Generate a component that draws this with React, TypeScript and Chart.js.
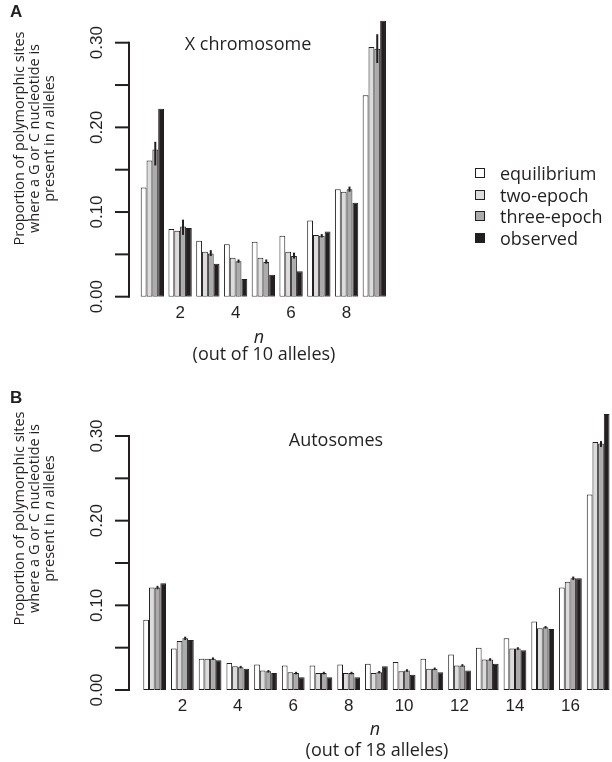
import React, { useEffect, useRef } from "react";
import { Chart, registerables } from "chart.js";

Chart.register(...registerables);

// ---------- data ----------
const seriesNames = ["equilibrium", "two-epoch", "three-epoch", "observed"];
const seriesColors = ["#ffffff", "#dcdcdc", "#ababab", "#231f20"];
const INK = "#231f20";

const yTickValues = [0, 0.05, 0.1, 0.15, 0.2, 0.25, 0.3];
const yTickLabels = ["0.00", "", "0.10", "", "0.20", "", "0.30"];

// Panel A: X chromosome (n out of 10 alleles)
const categoriesA = ["1", "2", "3", "4", "5", "6", "7", "8", "9"];
const equilibriumA = [0.129, 0.08, 0.066, 0.062, 0.065, 0.072, 0.09, 0.127, 0.238];
const twoEpochA = [0.161, 0.078, 0.053, 0.046, 0.046, 0.053, 0.073, 0.124, 0.295];
const threeEpochA = [0.174, 0.083, 0.051, 0.042, 0.041, 0.048, 0.072, 0.127, 0.293];
const threeEpochLoA = [0.155, 0.073, 0.048, 0.04, 0.039, 0.045, 0.07, 0.124, 0.276];
const threeEpochHiA = [0.183, 0.091, 0.055, 0.044, 0.044, 0.052, 0.074, 0.13, 0.31];
const observedA = [0.222, 0.081, 0.039, 0.021, 0.026, 0.03, 0.077, 0.111, 0.326];

// Panel B: Autosomes (n out of 18 alleles)
const categoriesB = ["1", "2", "3", "4", "5", "6", "7", "8", "9", "10", "11", "12", "13", "14", "15", "16", "17"];
const equilibriumB = [0.083, 0.049, 0.037, 0.032, 0.03, 0.029, 0.029, 0.03, 0.031, 0.033, 0.037, 0.042, 0.05, 0.061, 0.081, 0.121, 0.231];
const twoEpochB = [0.121, 0.058, 0.037, 0.028, 0.023, 0.021, 0.02, 0.02, 0.02, 0.022, 0.025, 0.029, 0.036, 0.049, 0.073, 0.128, 0.293];
const threeEpochB = [0.121, 0.061, 0.037, 0.027, 0.022, 0.02, 0.02, 0.02, 0.021, 0.023, 0.025, 0.029, 0.036, 0.049, 0.074, 0.132, 0.291];
const threeEpochLoB = [0.119, 0.059, 0.0355, 0.0255, 0.0205, 0.0185, 0.0185, 0.0185, 0.0195, 0.0215, 0.0235, 0.0275, 0.0345, 0.0475, 0.0725, 0.13, 0.287];
const threeEpochHiB = [0.123, 0.063, 0.0385, 0.0285, 0.0235, 0.0215, 0.0215, 0.0215, 0.0225, 0.0245, 0.0265, 0.0305, 0.0375, 0.0505, 0.0755, 0.134, 0.294];
const observedB = [0.126, 0.059, 0.035, 0.025, 0.02, 0.015, 0.015, 0.015, 0.028, 0.018, 0.021, 0.023, 0.031, 0.047, 0.072, 0.132, 0.326];

// ---------- styling / layout ----------
const TICK_FONT = "'Liberation Sans', Arial, sans-serif";
const TEXT_FONT = "'Open Sans', 'Noto Sans', sans-serif";
const Y_MAX = 0.33;
const AXIS_X = 129;
const TICK_LEN = 14;
const TICK_LABEL_X = 97.5;

type Panel = {
  categories: string[];
  series: number[][];
  lo: number[];
  hi: number[];
  height: number;
  top: number;
  padTop: number;
  plotLeft: number;
  padRight: number;
  xHeight: number;
  catPct: number;
};

const rAxisPlugin = {
  id: "rAxis",
  afterDraw(chart: any) {
    const y = chart.scales.y;
    const ctx = chart.ctx;
    ctx.save();
    ctx.strokeStyle = INK;
    ctx.fillStyle = INK;
    ctx.lineWidth = 2;
    ctx.lineCap = "butt";
    const pTop = y.getPixelForValue(yTickValues[yTickValues.length - 1]);
    const pBot = y.getPixelForValue(yTickValues[0]);
    ctx.beginPath();
    ctx.moveTo(AXIS_X, pTop - 1);
    ctx.lineTo(AXIS_X, pBot + 1);
    ctx.stroke();
    ctx.font = `17px ${TICK_FONT}`;
    ctx.textAlign = "center";
    ctx.textBaseline = "middle";
    y.ticks.forEach((t: any, i: number) => {
      const p = y.getPixelForValue(t.value);
      ctx.beginPath();
      ctx.moveTo(AXIS_X - TICK_LEN, p);
      ctx.lineTo(AXIS_X, p);
      ctx.stroke();
      const lab = yTickLabels[i];
      if (lab) {
        ctx.save();
        ctx.translate(TICK_LABEL_X, p);
        ctx.rotate(-Math.PI / 2);
        ctx.fillText(lab, 0, 0);
        ctx.restore();
      }
    });
    ctx.restore();
  },
};

const errPlugin = {
  id: "errBars",
  afterDatasetsDraw(chart: any, _args: any, opts: any) {
    const y = chart.scales.y;
    const meta = chart.getDatasetMeta(2);
    const ctx = chart.ctx;
    ctx.save();
    ctx.strokeStyle = INK;
    ctx.lineWidth = 2;
    meta.data.forEach((el: any, i: number) => {
      const a = y.getPixelForValue(opts.lo[i]);
      const b = y.getPixelForValue(opts.hi[i]);
      ctx.beginPath();
      ctx.moveTo(el.x, a);
      ctx.lineTo(el.x, b);
      ctx.stroke();
    });
    ctx.restore();
  },
};

function PanelChart({ p }: { p: Panel }) {
  const ref = useRef<HTMLCanvasElement | null>(null);
  useEffect(() => {
    if (!ref.current) return;
    const chart = new Chart(ref.current, {
      type: "bar",
      data: {
        labels: p.categories,
        datasets: p.series.map((vals, k) => ({
          label: seriesNames[k],
          data: vals,
          backgroundColor: seriesColors[k],
          borderColor: INK,
          borderWidth: 1,
          borderSkipped: false,
          barPercentage: 1,
          categoryPercentage: p.catPct,
        })),
      },
      options: {
        animation: false,
        responsive: false,
        devicePixelRatio: 1,
        layout: { padding: { top: p.padTop, right: p.padRight, left: 0, bottom: 0 } },
        plugins: {
          legend: { display: false },
          tooltip: { enabled: false },
          errBars: { lo: p.lo, hi: p.hi },
        } as any,
        scales: {
          x: {
            grid: { display: false, drawTicks: false },
            border: { display: false },
            ticks: {
              autoSkip: false,
              maxRotation: 0,
              minRotation: 0,
              padding: 6,
              color: INK,
              font: { family: TICK_FONT, size: 17 },
              callback: (_v: any, i: number) => ((i + 1) % 2 === 0 ? p.categories[i] : ""),
            },
            afterFit: (s: any) => {
              s.height = p.xHeight;
            },
          },
          y: {
            min: 0,
            max: Y_MAX,
            grid: { display: false, drawTicks: false },
            border: { display: false },
            ticks: { display: false },
            afterBuildTicks: (s: any) => {
              s.ticks = yTickValues.map((v) => ({ value: v }));
            },
            afterFit: (s: any) => {
              s.width = p.plotLeft;
            },
          },
        },
      },
      plugins: [rAxisPlugin, errPlugin],
    });
    return () => chart.destroy();
  }, [p]);
  return (
    <canvas
      ref={ref}
      width={612}
      height={p.height}
      style={{ position: "absolute", left: 0, top: p.top, width: 612, height: p.height }}
    />
  );
}

const panelA: Panel = {
  categories: categoriesA,
  series: [equilibriumA, twoEpochA, threeEpochA, observedA],
  lo: threeEpochLoA,
  hi: threeEpochHiA,
  height: 380,
  top: 0,
  padTop: 17.3,
  plotLeft: 138.5,
  padRight: 223.8,
  xHeight: 83.3,
  catPct: 0.84,
};

const panelB: Panel = {
  categories: categoriesB,
  series: [equilibriumB, twoEpochB, threeEpochB, observedB],
  lo: threeEpochLoB,
  hi: threeEpochHiB,
  height: 382,
  top: 380,
  padTop: 30.6,
  plotLeft: 140.8,
  padRight: 0,
  xHeight: 72,
  catPct: 0.82,
};

const abs = (left: number, top: number, extra: React.CSSProperties = {}): React.CSSProperties => ({
  position: "absolute",
  left,
  top,
  whiteSpace: "nowrap",
  color: INK,
  fontFamily: TEXT_FONT,
  ...extra,
});

function Centered({ cx, cy, size, children, italic }: { cx: number; cy: number; size: number; children: any; italic?: boolean }) {
  const w = 300;
  const h = size * 1.4;
  return (
    <div
      style={abs(cx - w / 2, cy - h / 2, {
        width: w,
        height: h,
        lineHeight: `${h}px`,
        textAlign: "center",
        fontSize: size,
        fontStyle: italic ? "italic" : "normal",
      })}
    >
      {children}
    </div>
  );
}

function YTitle({ cx, cy }: { cx: number; cy: number }) {
  const w = 300;
  const h = 45;
  return (
    <div
      style={abs(cx - w / 2, cy - h / 2, {
        width: w,
        height: h,
        lineHeight: "15px",
        fontSize: 14.5,
        textAlign: "center",
        transform: "rotate(-90deg)",
        transformOrigin: "50% 50%",
      })}
    >
      <div>Proportion of polymorphic sites</div>
      <div>where a G or C nucleotide is</div>
      <div>
        present in <i>n</i> alleles
      </div>
    </div>
  );
}

function Legend() {
  const rows = [172.7, 194.5, 216.3, 238];
  return (
    <>
      {seriesNames.map((name, k) => (
        <React.Fragment key={name}>
          <div
            style={abs(475, rows[k] - 5, {
              width: 8,
              height: 8,
              background: seriesColors[k],
              border: `1px solid ${INK}`,
            })}
          />
          <div style={abs(500, rows[k] - 12, { fontSize: 18, lineHeight: "24px", height: 24 })}>{name}</div>
        </React.Fragment>
      ))}
    </>
  );
}

export default function App() {
  return (
    <div style={{ position: "absolute", left: 0, top: 0, width: 612, height: 762, background: "#fff", overflow: "hidden" }}>
      <PanelChart p={panelA} />
      <PanelChart p={panelB} />
      <div style={abs(10, 2, { fontFamily: TICK_FONT, fontWeight: "bold", fontSize: 17 })}>A</div>
      <div style={abs(10, 388, { fontFamily: TICK_FONT, fontWeight: "bold", fontSize: 17 })}>B</div>
      <YTitle cx={33} cy={138} />
      <YTitle cx={33} cy={518} />
      <Centered cx={248} cy={44} size={18}>X chromosome</Centered>
      <Centered cx={336} cy={440} size={18}>Autosomes</Centered>
      <Centered cx={259} cy={337} size={18} italic>n</Centered>
      <Centered cx={264} cy={354} size={18}>(out of 10 alleles)</Centered>
      <Centered cx={375} cy={729} size={18} italic>n</Centered>
      <Centered cx={377} cy={750} size={18}>(out of 18 alleles)</Centered>
      <Legend />
    </div>
  );
}
